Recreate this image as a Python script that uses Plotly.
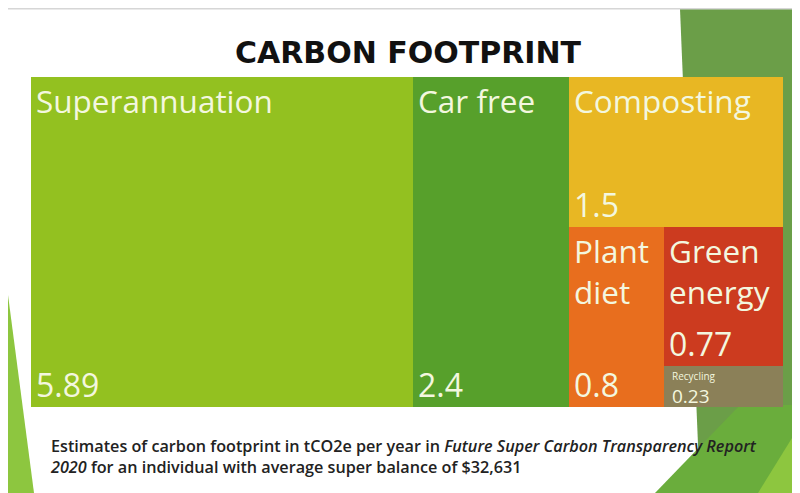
import plotly.graph_objects as go

# ---------------- data ----------------
categories = ["Superannuation", "Car free", "Composting", "Plant diet", "Green energy", "Recycling"]
display_labels = ["Superannuation", "Car free", "Composting", "Plant<br>diet", "Green<br>energy", "Recycling"]
values = [5.89, 2.4, 1.5, 0.8, 0.77, 0.23]
value_labels = ["5.89", "2.4", "1.5", "0.8", "0.77", "0.23"]

# ---------------- styles ----------------
colors = ["#93c120", "#57a02b", "#e8b723", "#e86e1e", "#cc3b1f", "#8b8058"]
label_sizes = [31.5, 31.5, 31.5, 31.5, 31.5, 10]
value_sizes = [32, 32, 32, 32, 32, 19]
split_dirs = ["h", "h", "v", "h", "v"]  # slice/dice order of the tiling
text_col = "#f3f7df"

# the page has an 8px body margin, so the figure is drawn 8px in
OFF = 8
PW, PH = 800, 493
W, H = PW - OFF, PH - OFF


def fx(x):
    return (x - OFF) / W


def fy(y):
    return 1 - (y - OFF) / H


# ---------------- treemap tiling from the values ----------------
total = sum(values)
x0, y0, x1, y1 = 0.0, 0.0, total, 1.0
remaining = total
rects = []
for i, v in enumerate(values):
    if i == len(values) - 1:
        rects.append((x0, y0, x1, y1))
        break
    if split_dirs[i] == "h":
        w = (x1 - x0) * v / remaining
        rects.append((x0, y0, x0 + w, y1))
        x0 += w
    else:
        hh = (y1 - y0) * v / remaining
        rects.append((x0, y0, x1, y0 + hh))
        y0 += hh
    remaining -= v

fig = go.Figure()
for i, (a, b, c, d) in enumerate(rects):
    fig.add_trace(go.Bar(
        x=[(a + c) / 2], width=[c - a], base=[b], y=[d - b],
        marker=dict(color=colors[i], line=dict(width=0)),
        name=categories[i], hoverinfo="skip", showlegend=False,
    ))

annotations = []
font_fam = "Open Sans"
for i, (a, b, c, d) in enumerate(rects):
    small = label_sizes[i] < 20
    annotations.append(dict(
        x=a, y=b, xref="x", yref="y", xanchor="left", yanchor="top",
        xshift=3 if not small else 6, yshift=0 if not small else -1,
        text=display_labels[i], showarrow=False, align="left",
        font=dict(family=font_fam, size=label_sizes[i], color=text_col),
    ))
    annotations.append(dict(
        x=a, y=d, xref="x", yref="y", xanchor="left", yanchor="bottom",
        xshift=3 if not small else 6, yshift=-1 if not small else -4,
        text=value_labels[i], showarrow=False, align="left",
        font=dict(family=font_fam, size=value_sizes[i], color=text_col),
    ))

# title and footnote
annotations.append(dict(
    x=fx(408), y=fy(52), xref="paper", yref="paper", xanchor="center", yanchor="middle",
    text="<b>CARBON FOOTPRINT</b>", showarrow=False,
    font=dict(family="DejaVu Sans", size=30, color="#111111"),
))
annotations.append(dict(
    x=fx(48), y=fy(456), xref="paper", yref="paper", xanchor="left", yanchor="middle",
    text=("Estimates of carbon footprint in tCO2e per year in <i>Future Super Carbon Transparency Report</i><br>"
          "<i>2020</i> for an individual with average super balance of $32,631"),
    showarrow=False, align="left",
    font=dict(family="Open Sans", size=16.2, color="#222222", weight=600),
))


def poly(points, color):
    path = "M " + " L ".join(f"{fx(x)},{fy(y)}" for x, y in points) + " Z"
    return dict(type="path", xref="paper", yref="paper", path=path,
                fillcolor=color, line=dict(width=0), layer="below")


shapes = [
    poly([(680, 9), (800, 9), (800, 493), (700, 493)], "#6b9e48"),
    poly([(655, 493), (740, 405), (800, 405), (800, 493)], "#6aad3c"),
    poly([(758, 493), (800, 425), (800, 493)], "#8dc63f"),
    poly([(792, 9), (800, 9), (800, 493), (792, 493)], "#86bf3e"),
    poly([(8, 295), (34, 493), (8, 493)], "#8dc63f"),
    dict(type="line", xref="paper", yref="paper", x0=0, x1=1, y0=fy(8.5), y1=fy(8.5),
         line=dict(color="#d6d6d6", width=2), layer="below"),
]

fig.update_layout(
    width=W, height=H, margin=dict(l=0, r=0, t=0, b=0),
    paper_bgcolor="white", plot_bgcolor="rgba(0,0,0,0)",
    barmode="overlay", bargap=0,
    xaxis=dict(range=[0, total], domain=[fx(31), fx(783)], visible=False, fixedrange=True),
    yaxis=dict(range=[1, 0], domain=[fy(407), fy(77)], visible=False, fixedrange=True),
    annotations=annotations, shapes=shapes, showlegend=False,
)

fig.write_html("out.html")
